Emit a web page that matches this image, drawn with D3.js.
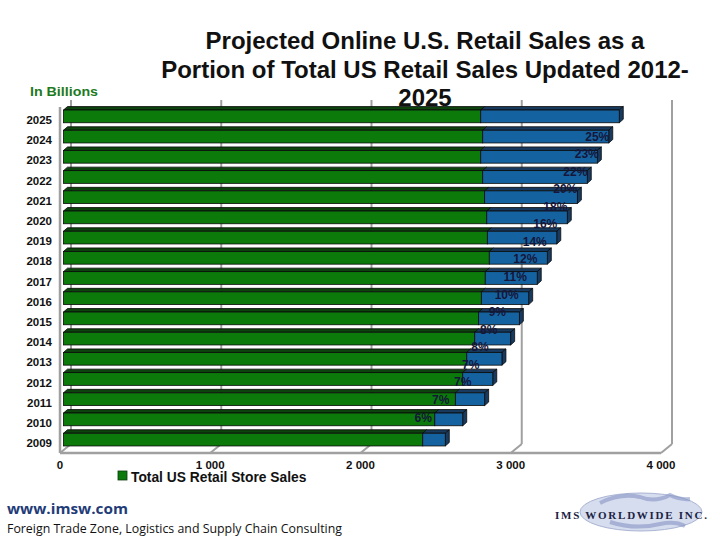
<!DOCTYPE html>
<html><head><meta charset="utf-8">
<script src="https://cdn.jsdelivr.net/npm/d3@7"></script>
<style>body{margin:0;background:#fff}svg{display:block}</style>
</head><body>
<svg id="c" width="720" height="540"></svg>
<script>
const years = ["2025","2024","2023","2022","2021","2020","2019","2018","2017","2016","2015","2014","2013","2012","2011","2010","2009"];
const storeSales = [2777,2790,2777,2790,2803,2817,2821,2834,2807,2781,2763,2737,2684,2657,2608,2471,2391];
const onlineSales = [922,839,776,696,617,536,462,386,346,315,271,239,234,200,195,186,150];
const pctLabels = ["25%","23%","22%","20%","18%","16%","14%","12%","11%","10%","9%","8%","8%","7%","7%","7%","6%"];
const xTicks = [0,1000,2000,3000,4000];
const titleLines = ["Projected Online U.S. Retail Sales as a","Portion of Total US Retail Sales Updated 2012-","2025"];

const svg = d3.select("#c");
const x = d3.scaleLinear().domain([0,4000]).range([60,661]);
const y = d3.scaleBand().domain(years).range([106.3,449.7]).paddingInner(0.37).paddingOuter(0.185);
const labelY = d3.scaleLinear().domain([0,years.length-1]).range([136,417]);
const WX = 11, WY = -9;   // wall depth
const BX = 3.5;           // bar front offset inside depth
const DX = 4, DY = -3.5;  // bar depth
const floorY = 453, wallTop = 100;

// walls
const g = svg.append("g");
xTicks.forEach(t => {
  g.append("line").attr("x1",x(t)+WX).attr("x2",x(t)+WX).attr("y1",wallTop).attr("y2",floorY+WY)
    .attr("stroke","#a0a0a0").attr("stroke-width",2);
  g.append("line").attr("x1",x(t)).attr("x2",x(t)+WX).attr("y1",floorY).attr("y2",floorY+WY)
    .attr("stroke","#a0a0a0").attr("stroke-width",2);
});
g.append("line").attr("x1",x(0)).attr("x2",x(0)).attr("y1",107).attr("y2",floorY).attr("stroke","#a0a0a0").attr("stroke-width",2.5);
g.append("line").attr("x1",x(0)).attr("x2",x(4000)).attr("y1",floorY).attr("y2",floorY).attr("stroke","#a0a0a0").attr("stroke-width",2.5);

// bars
function box(sel, x0, x1, yy, h, front, top, side, withSide){
  const p = (a)=>a.map(d=>d.join(",")).join(" ");
  sel.append("polygon").attr("points",p([[x0,yy],[x0+DX,yy+DY],[x1+DX,yy+DY],[x1,yy]]))
    .attr("fill",top).attr("stroke","#0a0a0a").attr("stroke-width",0.8);
  if(withSide) sel.append("polygon").attr("points",p([[x1,yy],[x1+DX,yy+DY],[x1+DX,yy+h+DY],[x1,yy+h]]))
    .attr("fill",side).attr("stroke","#0a0a0a").attr("stroke-width",0.8);
  sel.append("rect").attr("x",x0).attr("y",yy).attr("width",x1-x0).attr("height",h)
    .attr("fill",front).attr("stroke","#0a0a0a").attr("stroke-width",0.8);
}
const bars = svg.append("g");
years.forEach((yr,i)=>{
  const yy = y(yr), h = y.bandwidth();
  const xs = x(0)+BX, xg = x(storeSales[i])+BX, xt = x(storeSales[i]+onlineSales[i])+BX;
  const bg = bars.append("g");
  box(bg, xs, xg, yy, h, "#0b7a0b", "#0d430d", "#0d430d", false);
  box(bg, xg, xt, yy, h, "#1463a0", "#173a5e", "#173a5e", true);
});

// percentage labels
svg.append("g").selectAll("text").data(years).join("text")
  .attr("x",(d,i)=>x(storeSales[i]+onlineSales[i])+BX-22)
  .attr("y",(d,i)=>labelY(i)+4.5)
  .attr("text-anchor","middle").attr("font-family","Liberation Sans, Arial, sans-serif")
  .attr("font-weight","bold").attr("font-size",12).attr("fill","#16163a")
  .text((d,i)=>pctLabels[i]);

// year labels
svg.append("g").selectAll("text").data(years).join("text")
  .attr("x",52).attr("y",d=>y(d)+y.bandwidth()/2+7.5)
  .attr("text-anchor","end").attr("font-family","Liberation Sans, Arial, sans-serif")
  .attr("font-weight","bold").attr("font-size",11.5).attr("fill","#111")
  .text(d=>d);

// x axis labels
svg.append("g").selectAll("text").data(xTicks).join("text")
  .attr("x",d=>x(d)).attr("y",468.5).attr("text-anchor","middle")
  .attr("font-family","Liberation Sans, Arial, sans-serif").attr("font-weight","bold")
  .attr("font-size",11.5).attr("fill","#111")
  .text(d=>d3.format(",")(d).replace(/,/g," "));

// title
svg.append("g").selectAll("text").data(titleLines).join("text")
  .attr("x",425).attr("y",(d,i)=>49+i*28.5).attr("text-anchor","middle")
  .attr("font-family","Liberation Sans, Arial, sans-serif").attr("font-weight","bold")
  .attr("font-size",24).attr("fill","#111").text(d=>d);

svg.append("text").attr("x",30).attr("y",95.5).attr("font-family","Liberation Sans, Arial, sans-serif")
  .attr("font-weight","bold").attr("font-size",13).attr("fill","#1d7a1d")
  .attr("textLength",68).attr("lengthAdjust","spacingAndGlyphs").text("In Billions");

// legend
svg.append("rect").attr("x",118).attr("y",471).attr("width",9).attr("height",9)
  .attr("fill","#0b7a0b").attr("stroke","#0a3a0a").attr("stroke-width",0.8);
svg.append("text").attr("x",131).attr("y",482).attr("font-family","Liberation Sans, Arial, sans-serif")
  .attr("font-weight","bold").attr("font-size",13.8).attr("fill","#111").text("Total US Retail Store Sales");

// footer
svg.append("text").attr("x",7).attr("y",514).attr("font-family","Open Sans, Noto Sans, sans-serif")
  .attr("font-weight","bold").attr("font-size",15).attr("fill","#1f3c78")
  .attr("textLength",121).attr("lengthAdjust","spacingAndGlyphs").text("www.imsw.com");
svg.append("text").attr("x",7).attr("y",533).attr("font-family","Open Sans, Noto Sans, sans-serif")
  .attr("font-size",13).attr("fill","#111")
  .attr("textLength",335).attr("lengthAdjust","spacingAndGlyphs").text("Foreign Trade Zone, Logistics and Supply Chain Consulting");

// logo
const logo = svg.append("g");
logo.append("ellipse").attr("cx",641).attr("cy",512).attr("rx",61).attr("ry",19)
  .attr("fill","#d6ddee").attr("stroke","#aab4d4").attr("stroke-width",1);
logo.append("path").attr("d","M600,503 q20,-10 40,-6 q15,6 30,-2 q10,5 20,4 M610,522 q25,8 50,2 q15,-3 25,2")
  .attr("fill","none").attr("stroke","#8595c4").attr("stroke-width",4).attr("opacity",0.6);
logo.append("text").attr("x",555).attr("y",519).attr("font-family","Liberation Serif, DejaVu Serif, serif")
  .attr("font-weight","bold").attr("font-size",11).attr("fill","#1b2344")
  .attr("textLength",152).attr("lengthAdjust","spacing").text("IMS WORLDWIDE INC.");
</script>
</body></html>
